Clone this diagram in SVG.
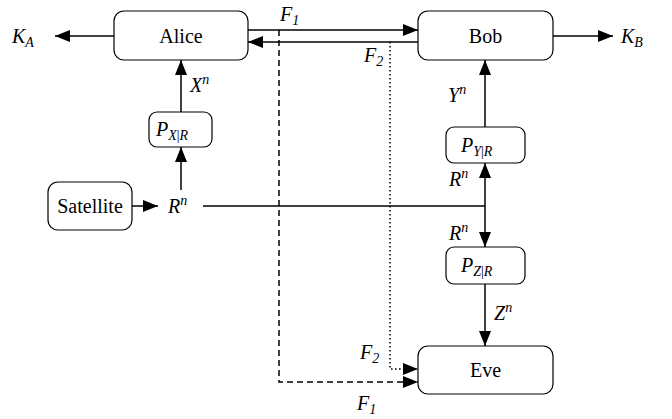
<svg xmlns="http://www.w3.org/2000/svg" width="672" height="419" viewBox="0 0 672 419" font-family="Liberation Serif">
<style>
.ln{fill:none;stroke:#000;stroke-width:1.5}
.box{fill:#fff;stroke:#000;stroke-width:1.2}
</style>
<defs>
<marker id="ah" markerUnits="userSpaceOnUse" markerWidth="15" markerHeight="12" viewBox="0 0 15 12" refX="15" refY="6" orient="auto">
<path d="M0,0 L15,6 L0,12 z" fill="#000"/>
</marker>
</defs>
<g id="connectors">
<line class="ln" x1="114" y1="36" x2="55" y2="36" marker-end="url(#ah)"/>
<line class="ln" x1="553" y1="36" x2="613" y2="36" marker-end="url(#ah)"/>
<line class="ln" x1="248" y1="30" x2="418" y2="30" marker-end="url(#ah)"/>
<line class="ln" x1="418" y1="42" x2="248" y2="42" marker-end="url(#ah)"/>
<path class="ln" stroke-dasharray="6,4" d="M279,30 L279,382 L418,382" marker-end="url(#ah)"/>
<path class="ln" stroke-dasharray="1.6,2.4" d="M390,42 L390,369 L418,369" marker-end="url(#ah)"/>
<line class="ln" x1="181" y1="112" x2="181" y2="60" marker-end="url(#ah)"/>
<line class="ln" x1="181" y1="190" x2="181" y2="147" marker-end="url(#ah)"/>
<line class="ln" x1="132" y1="206" x2="158" y2="206" marker-end="url(#ah)"/>
<line class="ln" x1="203" y1="206" x2="485" y2="206"/>
<line class="ln" x1="485" y1="206" x2="485" y2="163" marker-end="url(#ah)"/>
<line class="ln" x1="485" y1="206" x2="485" y2="247" marker-end="url(#ah)"/>
<line class="ln" x1="485" y1="127" x2="485" y2="60" marker-end="url(#ah)"/>
<line class="ln" x1="485" y1="284" x2="485" y2="346" marker-end="url(#ah)"/>
</g>
<g id="alice"><rect class="box" x="114" y="11" width="134" height="49" rx="10"/><text x="181" y="43" font-family="Liberation Serif" font-size="20" text-anchor="middle">Alice</text></g>
<g id="bob"><rect class="box" x="418" y="11" width="135" height="49" rx="10"/><text x="485.5" y="43" font-family="Liberation Serif" font-size="20" text-anchor="middle">Bob</text></g>
<g id="eve"><rect class="box" x="418" y="346" width="135" height="48" rx="10"/><text x="485.5" y="377" font-family="Liberation Serif" font-size="20" text-anchor="middle">Eve</text></g>
<g id="satellite"><rect class="box" x="48" y="182" width="84" height="48" rx="10"/><text x="90" y="213" font-family="Liberation Serif" font-size="20" text-anchor="middle">Satellite</text></g>
<g id="pxr"><rect class="box" x="149" y="112" width="63" height="35" rx="8"/><text x="156" y="136" font-family="Liberation Serif" font-size="20" font-style="italic">P<tspan font-size="14" dy="4">X<tspan font-style="normal">|</tspan>R</tspan></text></g>
<g id="pyr"><rect class="box" x="446" y="127" width="79" height="36" rx="8"/><text x="461" y="152" font-family="Liberation Serif" font-size="20" font-style="italic">P<tspan font-size="14" dy="4">Y<tspan font-style="normal">|</tspan>R</tspan></text></g>
<g id="pzr"><rect class="box" x="446" y="247" width="79" height="37" rx="8"/><text x="461" y="272" font-family="Liberation Serif" font-size="20" font-style="italic">P<tspan font-size="14" dy="4">Z<tspan font-style="normal">|</tspan>R</tspan></text></g>
<g id="labels">
<text x="12" y="43" font-family="Liberation Serif" font-size="20" font-style="italic">K<tspan font-size="14" dy="4">A</tspan></text>
<text x="621" y="43" font-family="Liberation Serif" font-size="20" font-style="italic">K<tspan font-size="14" dy="4">B</tspan></text>
<text x="280" y="21" font-family="Liberation Serif" font-size="20" font-style="italic">F<tspan font-size="14" dy="4">1</tspan></text>
<text x="364" y="62" font-family="Liberation Serif" font-size="20" font-style="italic">F<tspan font-size="14" dy="4">2</tspan></text>
<text x="360" y="359" font-family="Liberation Serif" font-size="20" font-style="italic">F<tspan font-size="14" dy="4">2</tspan></text>
<text x="357" y="410" font-family="Liberation Serif" font-size="20" font-style="italic">F<tspan font-size="14" dy="4">1</tspan></text>
<text x="190" y="92" font-family="Liberation Serif" font-size="20" font-style="italic">X<tspan font-size="14" dy="-8">n</tspan></text>
<text x="448" y="102" font-family="Liberation Serif" font-size="20" font-style="italic">Y<tspan font-size="14" dy="-8">n</tspan></text>
<text x="494" y="320" font-family="Liberation Serif" font-size="20" font-style="italic">Z<tspan font-size="14" dy="-8">n</tspan></text>
<text x="168" y="213" font-family="Liberation Serif" font-size="20" font-style="italic">R<tspan font-size="14" dy="-8">n</tspan></text>
<text x="449" y="186" font-family="Liberation Serif" font-size="20" font-style="italic">R<tspan font-size="14" dy="-8">n</tspan></text>
<text x="449" y="240" font-family="Liberation Serif" font-size="20" font-style="italic">R<tspan font-size="14" dy="-8">n</tspan></text>
</g>
</svg>
